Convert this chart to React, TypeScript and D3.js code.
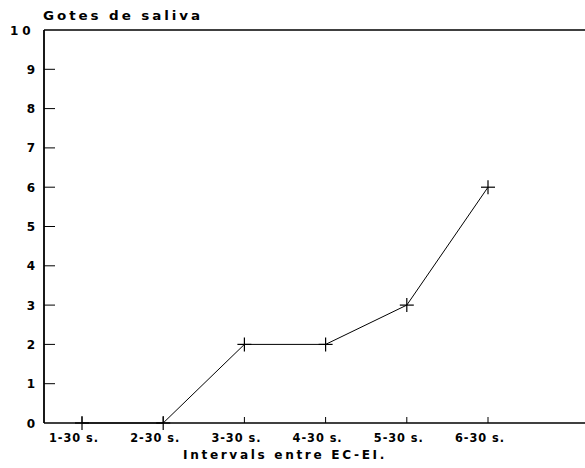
import React from "react";
import * as d3 from "d3";

const categories = ["1-30 s.", "2-30 s.", "3-30 s.", "4-30 s.", "5-30 s.", "6-30 s."];
const values = [0, 0, 2, 2, 3, 6];
const yTicks = [0, 1, 2, 3, 4, 5, 6, 7, 8, 9, 10];
const yTitle = "Gotes de saliva";
const xTitle = "Intervals entre EC-EI.";

const W = 585;
const H = 468;
const font = "'DejaVu Sans', Arial, sans-serif";

export default function App() {
  const x = d3.scaleLinear().domain([0, categories.length - 1]).range([82, 488]);
  const y = d3.scaleLinear().domain([0, 10]).range([423, 30]);
  const axisX = 44;
  const line = d3
    .line<number>()
    .x((_, i) => x(i))
    .y((d) => y(d));

  return (
    <svg
      width={W}
      height={H}
      style={{ position: "absolute", left: 0, top: 0, background: "#fff" }}
    >
      <rect x={0} y={0} width={W} height={H} fill="#fff" />
      {/* axes */}
      <line x1={axisX} x2={axisX} y1={y(10)} y2={y(0)} stroke="#000" strokeWidth={1.8} />
      <line x1={axisX} x2={W} y1={y(0)} y2={y(0)} stroke="#000" strokeWidth={1.4} />
      <line x1={axisX} x2={W} y1={y(10)} y2={y(10)} stroke="#000" strokeWidth={1.4} />
      {/* y ticks */}
      {yTicks.map((t) => (
        <g key={t}>
          {t > 0 && t < 10 && (
            <line x1={axisX} x2={axisX + 11} y1={y(t)} y2={y(t)} stroke="#000" strokeWidth={1} />
          )}
          <text
            x={t === 10 ? 10 : 35}
            y={y(t) + 4.5}
            textAnchor={t === 10 ? "start" : "end"}
            fontFamily={font}
            fontWeight="bold"
            fontSize={12}
            letterSpacing={t === 10 ? 4 : 0}
            fill="#000"
          >
            {t}
          </text>
        </g>
      ))}
      {/* x ticks and labels */}
      {categories.map((c, i) => (
        <g key={c}>
          <line x1={x(i)} x2={x(i)} y1={y(0)} y2={y(0) - 6} stroke="#000" strokeWidth={1} />
          <text
            x={x(i) - 8}
            y={441.5}
            textAnchor="middle"
            fontFamily={font}
            fontWeight="bold"
            fontSize={12}
            letterSpacing={1}
            textLength={50}
            lengthAdjust="spacingAndGlyphs"
            fill="#000"
          >
            {c}
          </text>
        </g>
      ))}
      {/* data line */}
      <path d={line(values) || ""} fill="none" stroke="#000" strokeWidth={1} />
      {values.map((v, i) => (
        <g key={i} stroke="#000" strokeWidth={1.2}>
          <line x1={x(i) - 7} x2={x(i) + 7} y1={y(v)} y2={y(v)} />
          <line x1={x(i)} x2={x(i)} y1={y(v) - 7} y2={y(v) + 7} />
        </g>
      ))}
      {/* titles */}
      <text
        x={43}
        y={20}
        fontFamily={font}
        fontWeight="bold"
        fontSize={11.5}
        letterSpacing={2.5}
        textLength={160}
        lengthAdjust="spacingAndGlyphs"
        fill="#000"
      >
        {yTitle}
      </text>
      <text
        x={285}
        y={459}
        textAnchor="middle"
        fontFamily={font}
        fontWeight="bold"
        fontSize={11.5}
        letterSpacing={2.5}
        textLength={204}
        lengthAdjust="spacingAndGlyphs"
        fill="#000"
      >
        {xTitle}
      </text>
    </svg>
  );
}
